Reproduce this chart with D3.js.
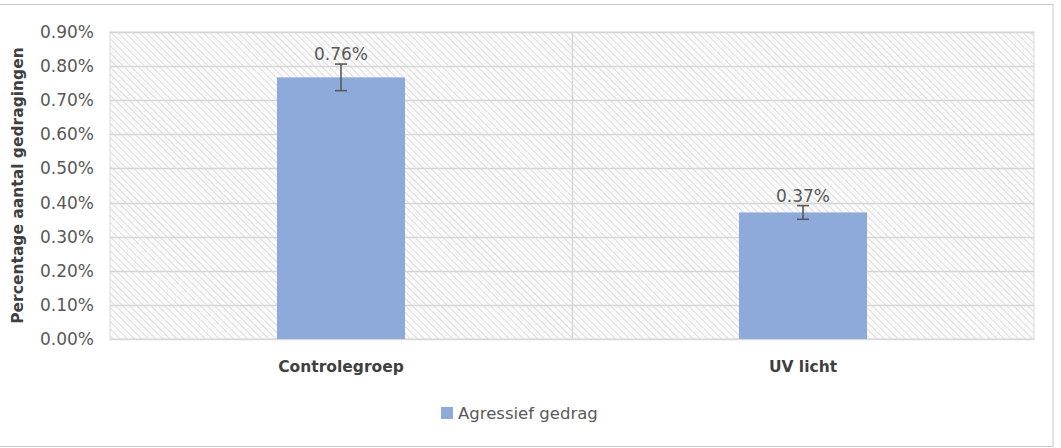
<!DOCTYPE html>
<html><head><meta charset="utf-8">
<script src="https://cdn.jsdelivr.net/npm/d3@7"></script>
<style>body{margin:0;background:#fff}svg{display:block}</style>
</head><body>
<svg id="c" width="1061" height="448"></svg>
<script>
const categories = ["Controlegroep", "UV licht"];
const values = [0.767, 0.371];
const errors = [0.039, 0.02];
const labels = ["0.76%", "0.37%"];
const yTicks = [0, 0.1, 0.2, 0.3, 0.4, 0.5, 0.6, 0.7, 0.8, 0.9];
const seriesName = "Agressief gedrag";

const svg = d3.select("#c");
const font = "'DejaVu Sans', sans-serif";
const m = {l:110, r:1034, t:32, b:339};

const defs = svg.append("defs");
const pat = defs.append("pattern").attr("id","hatch").attr("patternUnits","userSpaceOnUse")
  .attr("width",5).attr("height",5).attr("patternTransform","rotate(-45)");
pat.append("rect").attr("width",5).attr("height",5).attr("fill","#fafafa");
pat.append("line").attr("x1",0).attr("y1",0).attr("x2",0).attr("y2",5)
  .attr("stroke","#dadada").attr("stroke-width",1.7);

// outer border
svg.append("rect").attr("x",-1).attr("y",4.5).attr("width",1054).attr("height",442)
  .attr("fill","#fff").attr("stroke","#c8c8c8").attr("stroke-width",1);

const x = d3.scaleBand().domain(categories).range([m.l, m.r]);
const y = d3.scaleLinear().domain([0, 0.9]).range([m.b, m.t]);

svg.append("rect").attr("x",m.l).attr("y",m.t).attr("width",m.r-m.l).attr("height",m.b-m.t)
  .attr("fill","url(#hatch)").attr("stroke","#d9d9d9");

// gridlines
svg.append("g").selectAll("line").data(yTicks).join("line")
  .attr("x1",m.l).attr("x2",m.r).attr("y1",d=>Math.round(y(d))+0.5).attr("y2",d=>Math.round(y(d))+0.5)
  .attr("stroke","#d6d6d6").attr("stroke-width",1.4);
// category divider
svg.append("line").attr("x1",x(categories[1])+0.5).attr("x2",x(categories[1])+0.5)
  .attr("y1",m.t).attr("y2",m.b).attr("stroke","#d6d6d6").attr("stroke-width",1.4);

// y axis
const yAxis = d3.axisLeft(y).tickValues(yTicks).tickFormat(d=>d3.format(".2f")(d)+"%").tickSize(0).tickPadding(16);
const gy = svg.append("g").attr("transform",`translate(${m.l},0)`).call(yAxis);
gy.select(".domain").remove();
gy.selectAll("text").attr("font-family",font).attr("font-size",17).attr("fill","#595959");

// x axis
const xAxis = d3.axisBottom(x).tickSize(0).tickPadding(22);
const gx = svg.append("g").attr("transform",`translate(0,${m.b})`).call(xAxis);
gx.select(".domain").attr("stroke","#d9d9d9");
gx.selectAll("text").attr("font-family",font).attr("font-size",15.5).attr("font-weight","bold").attr("fill","#404040");

// bars
const bw = 128;
svg.append("g").selectAll("rect").data(values).join("rect")
  .attr("x",(d,i)=>x(categories[i])+x.bandwidth()/2-bw/2).attr("width",bw)
  .attr("y",d=>y(d)).attr("height",d=>y(0)-y(d)).attr("fill","#8eaadb");

// error bars
const eg = svg.append("g").attr("stroke","#595959").attr("stroke-width",1.6);
values.forEach((v,i)=>{
  const cx = x(categories[i])+x.bandwidth()/2;
  eg.append("line").attr("x1",cx).attr("x2",cx).attr("y1",y(v+errors[i])).attr("y2",y(v-errors[i]));
  eg.append("line").attr("x1",cx-6).attr("x2",cx+6).attr("y1",y(v+errors[i])).attr("y2",y(v+errors[i]));
  eg.append("line").attr("x1",cx-6).attr("x2",cx+6).attr("y1",y(v-errors[i])).attr("y2",y(v-errors[i]));
});

// data labels
svg.append("g").selectAll("text").data(values).join("text")
  .attr("x",(d,i)=>x(categories[i])+x.bandwidth()/2)
  .attr("y",(d,i)=>y(d+errors[i])-4)
  .attr("text-anchor","middle").attr("font-family",font).attr("font-size",17).attr("fill","#595959")
  .text((d,i)=>labels[i]);

// y title
svg.append("text").attr("transform",`translate(23,${(m.t+m.b)/2}) rotate(-90)`)
  .attr("text-anchor","middle").attr("font-family",font).attr("font-size",15.5).attr("font-weight","bold")
  .attr("fill","#404040").text("Percentage aantal gedragingen");

// legend
const lg = svg.append("g").attr("transform","translate(441,407)");
lg.append("rect").attr("width",12).attr("height",12).attr("fill","#8eaadb");
lg.append("text").attr("x",17).attr("y",12).attr("font-family",font).attr("font-size",16.5).attr("fill","#595959").text(seriesName);
</script>
</body></html>
